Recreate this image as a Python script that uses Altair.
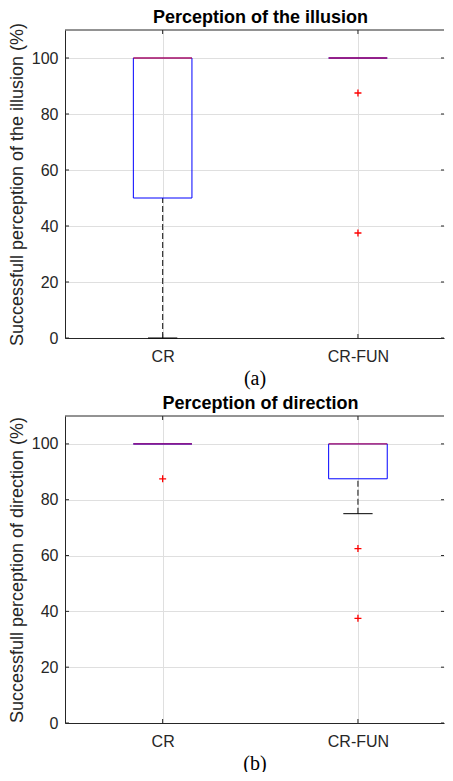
import altair as alt
import pandas as pd

categories = ["CR", "CR-FUN"]
y_ticks = [0, 20, 40, 60, 80, 100]

# Panel (a): Perception of the illusion
a_q1 = [50, 100]
a_median = [100, 100]
a_q3 = [100, 100]
a_whisk_lo = [0, 100]
a_whisk_hi = [100, 100]
a_out_cat = ["CR-FUN", "CR-FUN"]
a_out_val = [87.5, 37.5]

# Panel (b): Perception of direction
b_q1 = [100, 87.5]
b_median = [100, 100]
b_q3 = [100, 100]
b_whisk_lo = [100, 75]
b_whisk_hi = [100, 100]
b_out_cat = ["CR", "CR-FUN", "CR-FUN"]
b_out_val = [87.5, 62.5, 37.5]

PLOT_W = 379
X_DOMAIN = [0.5, 0.5 + PLOT_W / 195.3]
Y_DOMAIN = [0, 110]
SANS = "Liberation Sans"
AXIS_COL = "#262626"
GRID_COL = "#dfdfdf"
PLUS = "M-1,0L1,0M0,-1L0,1"


def panel(q1, med, q3, wlo, whi, out_cat, out_val, title, ylabel, caption, plot_h, title_dy):
    pos_map = {c: i + 1 for i, c in enumerate(categories)}
    box_df = pd.DataFrame({
        "cat": categories,
        "pos": [pos_map[c] for c in categories],
        "q1": q1, "median": med, "q3": q3, "wlo": wlo, "whi": whi,
    })
    out_df = pd.DataFrame({"cat": out_cat, "val": out_val})
    out_df["pos"] = out_df["cat"].map(pos_map)
    ytick_df = pd.DataFrame({"t": y_ticks})
    xtick_df = pd.DataFrame({"t": [pos_map[c] for c in categories]})

    xscale = alt.Scale(domain=X_DOMAIN, nice=False, zero=False)
    yscale = alt.Scale(domain=Y_DOMAIN, nice=False)
    label_expr = "[" + ",".join("'%s'" % c for c in categories) + "][datum.value - 1]"
    xaxis = alt.Axis(
        values=[1, 2], labelExpr=label_expr, grid=True, gridColor=GRID_COL,
        ticks=False, tickSize=0, domainColor=AXIS_COL, labelColor=AXIS_COL, labelFont=SANS,
        labelFontSize=16, labelPadding=10, title=caption, titleFont="Liberation Serif",
        titleFontSize=20, titleFontWeight="normal", titleColor="black", titlePadding=4,
    )
    yaxis = alt.Axis(
        values=y_ticks, grid=True, gridColor=GRID_COL, ticks=False, tickSize=0,
        domainColor=AXIS_COL, labelColor=AXIS_COL, labelFont=SANS, labelFontSize=16,
        labelPadding=7, title=ylabel, titleFont=SANS, titleFontSize=18,
        titleFontWeight="normal", titleColor=AXIS_COL, titlePadding=5.3,
    )

    def X(f):
        return alt.X(f, type="quantitative", scale=xscale, axis=xaxis)

    def Y(f):
        return alt.Y(f, type="quantitative", scale=yscale, axis=yaxis)

    base = alt.Chart(box_df).transform_calculate(
        lo="datum.pos - 0.15", hi="datum.pos + 0.15",
        clo="datum.pos - 0.075", chi="datum.pos + 0.075",
    )

    border = alt.Chart(pd.DataFrame({"x0": [X_DOMAIN[0]], "x1": [X_DOMAIN[1]], "y": [Y_DOMAIN[1]]})).mark_rule(
        color=AXIS_COL, strokeWidth=1
    ).encode(x=X("x0"), x2="x1", y=Y("y"))

    # inside tick marks (MATLAB style)
    tick_l = alt.Chart(ytick_df).mark_rule(color=AXIS_COL, strokeWidth=1, x2Offset=4).encode(
        x=alt.XDatum(X_DOMAIN[0], scale=xscale, axis=xaxis), x2=alt.X2Datum(X_DOMAIN[0]), y=Y("t"))
    tick_r = alt.Chart(ytick_df).mark_rule(color=AXIS_COL, strokeWidth=1, x2Offset=-3).encode(
        x=alt.XDatum(X_DOMAIN[1], scale=xscale, axis=xaxis), x2=alt.X2Datum(X_DOMAIN[1]), y=Y("t"))
    tick_t = alt.Chart(xtick_df).mark_rule(color=AXIS_COL, strokeWidth=1, y2Offset=4).encode(
        x=X("t"), y=alt.YDatum(Y_DOMAIN[1], scale=yscale, axis=yaxis), y2=alt.Y2Datum(Y_DOMAIN[1]))
    tick_b = alt.Chart(xtick_df).mark_rule(color=AXIS_COL, strokeWidth=1, y2Offset=-4).encode(
        x=X("t"), y=alt.YDatum(Y_DOMAIN[0], scale=yscale, axis=yaxis), y2=alt.Y2Datum(Y_DOMAIN[0]))

    wl = base.transform_filter("datum.wlo < datum.q1").mark_rule(
        color="#333333", strokeWidth=1.2, strokeDash=[6, 3]
    ).encode(x=X("pos"), y=Y("wlo"), y2="q1")
    wh = base.transform_filter("datum.whi > datum.q3").mark_rule(
        color="#333333", strokeWidth=1.2, strokeDash=[6, 3]
    ).encode(x=X("pos"), y=Y("q3"), y2="whi")
    cap_lo = base.transform_filter("datum.wlo < datum.q1").mark_rule(
        color="black", strokeWidth=1
    ).encode(x=X("clo"), x2="chi", y=Y("wlo"))
    cap_hi = base.transform_filter("datum.whi > datum.q3").mark_rule(
        color="black", strokeWidth=1
    ).encode(x=X("clo"), x2="chi", y=Y("whi"))
    box = base.mark_rect(fillOpacity=0, stroke="#0000ff", strokeWidth=1).encode(
        x=X("lo"), x2="hi", y=Y("q1"), y2="q3"
    )
    median = base.mark_rule(color="#ff0000", opacity=0.6, strokeWidth=1.3).encode(
        x=X("lo"), x2="hi", y=Y("median")
    )
    outl = alt.Chart(out_df).mark_point(
        shape=PLUS, size=49, filled=False, color="#ff0000", strokeWidth=1.3, opacity=1
    ).encode(x=X("pos"), y=Y("val"))

    title_mark = alt.Chart(pd.DataFrame({"title": [title]})).mark_text(
        font=SANS, fontSize=18, fontWeight="bold", color="black",
        align="center", baseline="alphabetic",
    ).encode(text="title:N", x=alt.value(195.5), y=alt.value(-title_dy))

    return alt.layer(border, tick_l, tick_r, tick_t, tick_b, wl, wh, cap_lo, cap_hi,
                     box, median, outl, title_mark).properties(width=PLOT_W, height=plot_h)


pa = panel(a_q1, a_median, a_q3, a_whisk_lo, a_whisk_hi, a_out_cat, a_out_val,
           "Perception of the illusion", "Successfull perception of the illusion (%)", "(a)", 308, 7.5)
pb = panel(b_q1, b_median, b_q3, b_whisk_lo, b_whisk_hi, b_out_cat, b_out_val,
           "Perception of direction", "Successfull perception of direction (%)", "(b)", 307, 7)

chart = alt.vconcat(pa, pb, spacing=78, bounds="flush").properties(
    padding={"left": 0, "top": 0, "right": 0, "bottom": -1}
).configure_view(stroke=None)

chart.save("out.html", embed_options={"renderer": "svg", "actions": False})
